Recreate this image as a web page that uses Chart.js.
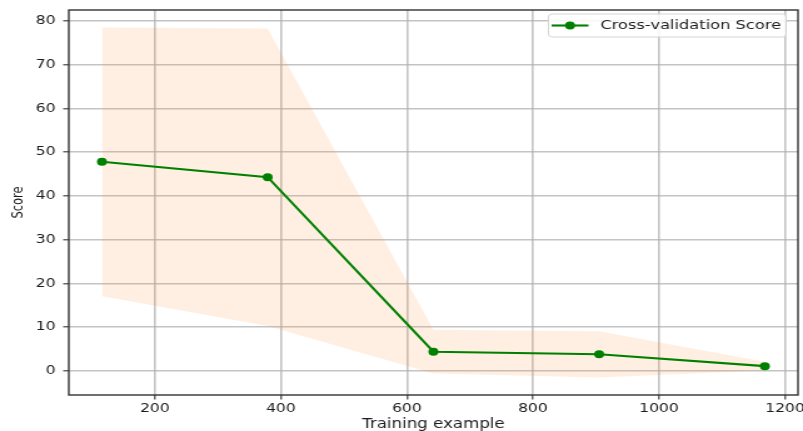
<!DOCTYPE html>
<html>
<head>
<meta charset="utf-8">
<script src="https://cdn.jsdelivr.net/npm/chart.js@4.4.1/dist/chart.umd.min.js"></script>
<style>
  html, body { margin: 0; padding: 0; background: #ffffff; }
  #wrap { width: 803px; height: 431px; overflow: hidden; }
</style>
</head>
<body>
<!-- the figure is drawn on a narrower canvas and shown widened to 803px -->
<div id="wrap"><canvas id="c" width="642" height="431" style="display:block;width:803px;height:431px;"></canvas></div>
<script>
// Learning-curve data: training-set sizes, mean CV score and its ±1 std band
const trainSizes = [116, 379, 642, 905, 1168];
const cvScore    = [47.8, 44.3, 4.4, 3.8, 1.1];
const cvUpper    = [78.5, 78.3, 9.4, 9.1, 2.1];
const cvLower    = [17.1, 10.3, -0.6, -1.5, 0.1];

const xTicks = [200, 400, 600, 800, 1000, 1200];
const yTicks = [0, 10, 20, 30, 40, 50, 60, 70, 80];

const seriesLabel = 'Cross-validation Score';
const xLabel = 'Training example';
const yLabel = 'Score';

const FONT = '"DejaVu Sans", "Liberation Sans", sans-serif';
const TEXT = '#1c1c1c';
const GREEN = '#008000';
const GRID = 'rgba(176,176,176,0.75)';
const SPINE = '#333333';

// 5% margins around the data range, like the default plotting margins
function padded(values) {
  const lo = Math.min(...values), hi = Math.max(...values);
  const m = (hi - lo) * 0.05;
  return [lo - m, hi + m];
}
const [xMin, xMax] = padded(trainSizes);
const [yMin, yMax] = padded(cvUpper.concat(cvLower));

const toPoints = ys => trainSizes.map((x, i) => ({ x, y: ys[i] }));

// Full box frame around the plot area
const frame = {
  id: 'frame',
  afterDatasetsDraw(chart) {
    const { ctx, chartArea: a } = chart;
    ctx.save();
    ctx.strokeStyle = SPINE;
    ctx.lineWidth = 1.4;
    ctx.strokeRect(a.left, a.top, a.right - a.left, a.bottom - a.top);
    ctx.restore();
  }
};

// Legend drawn inside the plot, upper right corner
const insideLegend = {
  id: 'insideLegend',
  afterDraw(chart) {
    const ds = chart.data.datasets[0];
    const { ctx, chartArea: a } = chart;
    ctx.save();
    ctx.font = '13px ' + FONT;
    const tw = ctx.measureText(ds.label).width;
    const h = 23, lineLen = 29.5, gap = 9.5, padL = 2.5, padR = 4;
    const w = padL + lineLen + gap + tw + padR;
    const right = a.right - 9.5, top = a.top + 4;
    const left = right - w;
    ctx.beginPath();
    ctx.roundRect(left, top, w, h, 3);
    ctx.fillStyle = 'rgba(255,255,255,0.85)';
    ctx.fill();
    ctx.strokeStyle = '#d4d4d4';
    ctx.lineWidth = 1;
    ctx.stroke();
    const cy = top + h / 2;
    const lx = left + padL;
    ctx.strokeStyle = ds.borderColor;
    ctx.lineWidth = ds.borderWidth;
    ctx.beginPath();
    ctx.moveTo(lx, cy);
    ctx.lineTo(lx + lineLen, cy);
    ctx.stroke();
    ctx.fillStyle = ds.pointBackgroundColor;
    ctx.beginPath();
    ctx.arc(lx + lineLen / 2, cy, ds.pointRadius, 0, Math.PI * 2);
    ctx.fill();
    ctx.fillStyle = TEXT;
    ctx.textBaseline = 'middle';
    ctx.textAlign = 'left';
    ctx.fillText(ds.label, lx + lineLen + gap, cy + 0.5);
    ctx.restore();
  }
};

new Chart(document.getElementById('c'), {
  type: 'line',
  data: {
    datasets: [
      {
        label: seriesLabel,
        data: toPoints(cvScore),
        borderColor: GREEN,
        backgroundColor: GREEN,
        pointBackgroundColor: GREEN,
        pointBorderColor: GREEN,
        pointRadius: 4,
        pointBorderWidth: 0,
        borderWidth: 2.1,
        tension: 0,
        fill: false,
        order: 0
      },
      {
        label: 'upper',
        data: toPoints(cvUpper),
        borderWidth: 0,
        borderColor: 'rgba(0,0,0,0)',
        pointRadius: 0,
        backgroundColor: 'rgba(255,127,14,0.12)',
        fill: '+1',
        tension: 0,
        order: 1
      },
      {
        label: 'lower',
        data: toPoints(cvLower),
        borderWidth: 0,
        borderColor: 'rgba(0,0,0,0)',
        pointRadius: 0,
        fill: false,
        tension: 0,
        order: 1
      }
    ]
  },
  options: {
    responsive: false,
    animation: false,
    events: [],
    layout: { padding: { top: 10, right: 2.8, left: 0, bottom: 0 } },
    plugins: {
      legend: { display: false },
      tooltip: { enabled: false },
      title: { display: false }
    },
    scales: {
      x: {
        type: 'linear',
        min: xMin,
        max: xMax,
        afterBuildTicks: s => { s.ticks = xTicks.map(v => ({ value: v })); },
        afterFit: s => { s.height = 36; s.paddingLeft = 0; s.paddingRight = 0; },
        grid: {
          color: GRID,
          lineWidth: 1.6,
          tickColor: SPINE,
          tickLength: 4.5,
          tickWidth: 1.1
        },
        border: { display: false },
        ticks: {
          autoSkip: false,
          maxRotation: 0,
          padding: 2,
          color: TEXT,
          font: { family: FONT, size: 12.5 },
          callback: v => String(v)
        },
        title: {
          display: true,
          text: xLabel,
          color: TEXT,
          font: { family: FONT, size: 13.3, lineHeight: 1 },
          padding: { top: 0, bottom: 0 }
        }
      },
      y: {
        type: 'linear',
        min: yMin,
        max: yMax,
        afterBuildTicks: s => { s.ticks = yTicks.map(v => ({ value: v })); },
        afterFit: s => { s.width = 55; s.paddingTop = 0; s.paddingBottom = 0; },
        grid: {
          color: GRID,
          lineWidth: 1.6,
          tickColor: SPINE,
          tickLength: 4.5,
          tickWidth: 1.1
        },
        border: { display: false },
        ticks: {
          autoSkip: false,
          padding: 6,
          color: TEXT,
          font: { family: FONT, size: 12.5 },
          callback: v => String(v)
        },
        title: {
          display: true,
          text: yLabel,
          color: TEXT,
          font: { family: FONT, size: 11.5, lineHeight: 1.2 },
          padding: { top: 8.3, bottom: 0 }
        }
      }
    }
  },
  plugins: [frame, insideLegend]
});
</script>
</body>
</html>
